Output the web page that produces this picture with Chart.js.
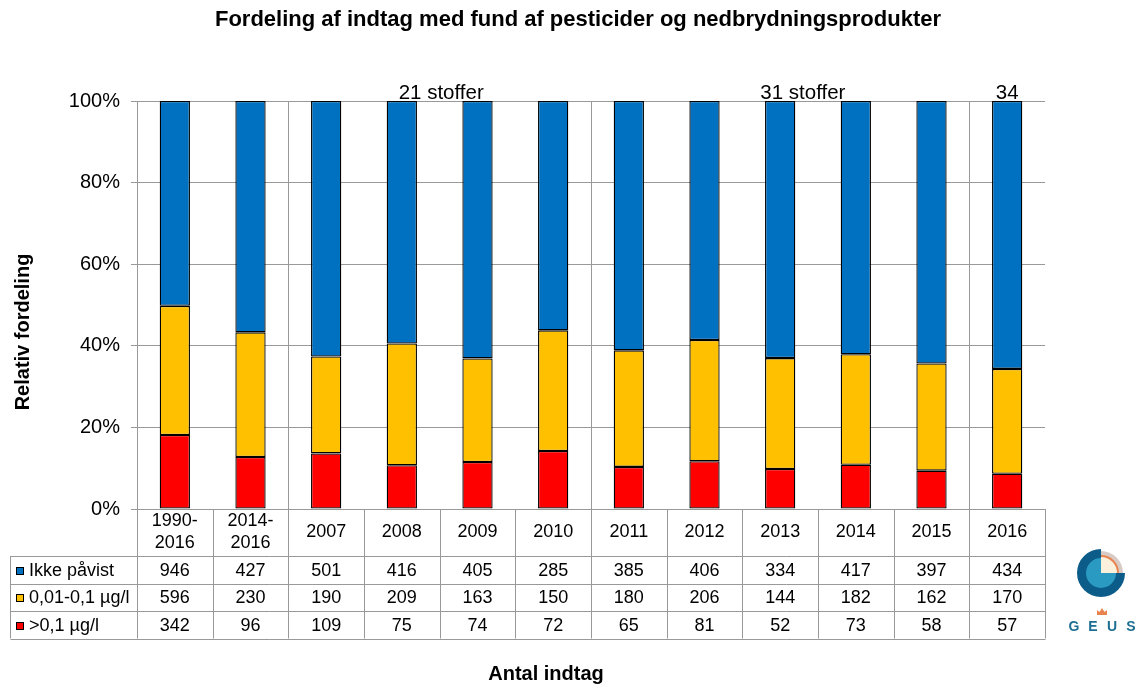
<!DOCTYPE html>
<html>
<head>
<meta charset="utf-8">
<title>Fordeling af indtag</title>
<script src="https://cdn.jsdelivr.net/npm/chart.js@4/dist/chart.umd.min.js"></script>
<style>
  html, body { margin: 0; padding: 0; background: #fff; }
  #wrap { width: 1137px; height: 684px; }
</style>
</head>
<body>
<div id="wrap"><canvas id="fund-chart" width="1137" height="684"></canvas></div>
<script>
// antal indtag pr. periode/år
const aarLabels = [['1990-', '2016'], ['2014-', '2016'], '2007', '2008', '2009', '2010', '2011', '2012', '2013', '2014', '2015', '2016'];
const ikkePaavist = [946, 427, 501, 416, 405, 285, 385, 406, 334, 417, 397, 434];
const mellemFund = [596, 230, 190, 209, 163, 150, 180, 206, 144, 182, 162, 170];
const overGraense = [342, 96, 109, 75, 74, 72, 65, 81, 52, 73, 58, 57];

const serieNavne = ['Ikke påvist', '0,01-0,1 µg/l', '>0,1 µg/l'];
const serieFarver = ['#0070C0', '#FFC000', '#FF0000'];
const stofTekster = ['21 stoffer', '31 stoffer', '34'];
const gruppeSkift = [2, 6, 11];

const overskrift = 'Fordeling af indtag med fund af pesticider og nedbrydningsprodukter';
const gridFarve = '#999999';
const fontNavn = "'Liberation Sans', Arial, sans-serif";
Chart.defaults.font.family = fontNavn;
Chart.defaults.color = '#000';

const total = ikkePaavist.map((v, i) => v + mellemFund[i] + overGraense[i]);
const andel = arr => arr.map((v, i) => v / total[i] * 100);

// tabel under grafen + tekster omkring den
const tabelPlugin = {
    id: 'tabel',
    afterDraw(chart) {
        const ctx = chart.ctx;
        const xs = chart.scales.x;
        const area = chart.chartArea;
        const n = aarLabels.length;
        const kant = i => Math.round(xs.getPixelForValue(i - 0.5)) + 0.5;
        const hovedBund = area.bottom + 47;
        const raekkeH = 27.5;
        const tabelBund = hovedBund + 3 * raekkeH;
        const venstre = 10.5;

        ctx.save();
        ctx.strokeStyle = gridFarve;
        ctx.lineWidth = 1;
        ctx.beginPath();
        for (let i = 0; i <= n; i++) {
            ctx.moveTo(kant(i), area.bottom);
            ctx.lineTo(kant(i), tabelBund);
        }
        ctx.moveTo(venstre, hovedBund);
        ctx.lineTo(venstre, tabelBund);
        for (let r = 0; r <= 3; r++) {
            const y = Math.round(hovedBund + r * raekkeH) + 0.5;
            ctx.moveTo(venstre, y);
            ctx.lineTo(kant(n), y);
        }
        ctx.stroke();

        ctx.fillStyle = '#000';
        ctx.font = '18px ' + fontNavn;
        ctx.textAlign = 'center';
        ctx.textBaseline = 'middle';
        const hovedMidt = area.bottom + 23.5;
        aarLabels.forEach((lab, i) => {
            const x = xs.getPixelForValue(i);
            if (Array.isArray(lab)) {
                ctx.fillText(lab[0], x, hovedMidt - 11);
                ctx.fillText(lab[1], x, hovedMidt + 11);
            } else {
                ctx.fillText(lab, x, hovedMidt);
            }
        });

        const raekker = [ikkePaavist, mellemFund, overGraense];
        raekker.forEach((vaerdier, r) => {
            const y = hovedBund + (r + 0.5) * raekkeH + 1;
            ctx.textAlign = 'center';
            vaerdier.forEach((v, i) => ctx.fillText(String(v), xs.getPixelForValue(i), y));
            ctx.fillStyle = serieFarver[r];
            ctx.fillRect(16, Math.round(y - 4), 8, 8);
            ctx.strokeStyle = '#000';
            ctx.strokeRect(16.5, Math.round(y - 4) + 0.5, 7, 7);
            ctx.fillStyle = '#000';
            ctx.textAlign = 'left';
            ctx.fillText(serieNavne[r], 29, y);
        });

        // antal stoffer i analyseprogrammet
        const stofPos = [3.52, 8.3, 11.0];
        ctx.font = '20.5px ' + fontNavn;
        ctx.textAlign = 'center';
        ctx.textBaseline = 'alphabetic';
        stofTekster.forEach((t, i) => ctx.fillText(t, xs.getPixelForValue(stofPos[i]), area.top - 2));

        // overskrift og aksetitler
        ctx.textBaseline = 'middle';
        ctx.font = 'bold 22px ' + fontNavn;
        ctx.fillText(overskrift, 578, 20);
        ctx.font = 'bold 20px ' + fontNavn;
        ctx.fillText('Antal indtag', 546, 674);
        ctx.translate(23, 332);
        ctx.rotate(-Math.PI / 2);
        ctx.fillText('Relativ fordeling', 0, 0);
        ctx.restore();
    }
};

// GEUS logo
const logoPlugin = {
    id: 'logo',
    afterDraw(chart) {
        const ctx = chart.ctx;
        const cx = 1101, cy = 573, R = 24;
        ctx.save();
        // øverste højre kvadrant
        ctx.fillStyle = '#d8cbc6';
        ctx.beginPath();
        ctx.moveTo(cx, cy);
        ctx.arc(cx, cy, R - 2, -Math.PI / 2, 0);
        ctx.closePath();
        ctx.fill();
        ctx.fillStyle = '#e8834f';
        ctx.beginPath();
        ctx.moveTo(cx, cy);
        ctx.arc(cx, cy, 18, -Math.PI / 2, 0);
        ctx.closePath();
        ctx.fill();
        ctx.fillStyle = '#fbf0dc';
        ctx.beginPath();
        ctx.moveTo(cx, cy);
        ctx.arc(cx, cy, 16, -Math.PI / 2, 0);
        ctx.closePath();
        ctx.fill();
        // mørk ring
        ctx.fillStyle = '#0b5c88';
        ctx.beginPath();
        ctx.arc(cx, cy, R, 0, Math.PI * 1.5);
        ctx.lineTo(cx, cy);
        ctx.closePath();
        ctx.fill();
        // lys indre del
        ctx.fillStyle = '#2a9ac2';
        ctx.beginPath();
        ctx.arc(cx, cy, 15, 0, Math.PI * 1.5);
        ctx.lineTo(cx, cy);
        ctx.closePath();
        ctx.fill();

        // krone
        const kx = 1102, ky = 612;
        ctx.fillStyle = '#e8834f';
        ctx.beginPath();
        ctx.moveTo(kx - 5, ky + 3);
        ctx.lineTo(kx - 5, ky - 2);
        ctx.lineTo(kx - 2.5, ky);
        ctx.lineTo(kx, ky - 4);
        ctx.lineTo(kx + 2.5, ky);
        ctx.lineTo(kx + 5, ky - 2);
        ctx.lineTo(kx + 5, ky + 3);
        ctx.closePath();
        ctx.fill();

        ctx.fillStyle = '#1c6e92';
        ctx.font = 'bold 14px ' + fontNavn;
        ctx.textAlign = 'center';
        ctx.textBaseline = 'middle';
        ['G', 'E', 'U', 'S'].forEach((b, i) => ctx.fillText(b, 1074 + i * 19, 627));
        ctx.restore();
    }
};

new Chart(document.getElementById('fund-chart'), {
    type: 'bar',
    data: {
        labels: aarLabels,
        datasets: [
            { label: serieNavne[2], data: andel(overGraense), backgroundColor: serieFarver[2] },
            { label: serieNavne[1], data: andel(mellemFund), backgroundColor: serieFarver[1] },
            { label: serieNavne[0], data: andel(ikkePaavist), backgroundColor: serieFarver[0] }
        ]
    },
    options: {
        responsive: false,
        animation: false,
        layout: { padding: { left: 8, right: 92, top: 101, bottom: 0 } },
        datasets: {
            bar: {
                barPercentage: 0.4,
                categoryPercentage: 1,
                borderColor: '#000',
                borderWidth: 1.3,
                borderSkipped: false
            }
        },
        scales: {
            x: {
                stacked: true,
                ticks: { display: false },
                grid: {
                    offset: true,
                    drawTicks: false,
                    color: c => (gruppeSkift.includes(c.index) || c.index === aarLabels.length) ? gridFarve : 'rgba(0,0,0,0)'
                },
                border: { color: gridFarve },
                afterFit: s => { s.height = 175; }
            },
            y: {
                stacked: true,
                min: 0,
                max: 100,
                ticks: {
                    stepSize: 20,
                    font: { size: 20 },
                    padding: 11,
                    callback: v => v + '%'
                },
                grid: { color: gridFarve, tickLength: 6, tickColor: gridFarve },
                border: { color: gridFarve },
                afterFit: s => { s.width = 129; }
            }
        },
        plugins: {
            legend: { display: false },
            tooltip: { enabled: false },
            title: { display: false }
        }
    },
    plugins: [tabelPlugin, logoPlugin]
});
</script>
</body>
</html>
